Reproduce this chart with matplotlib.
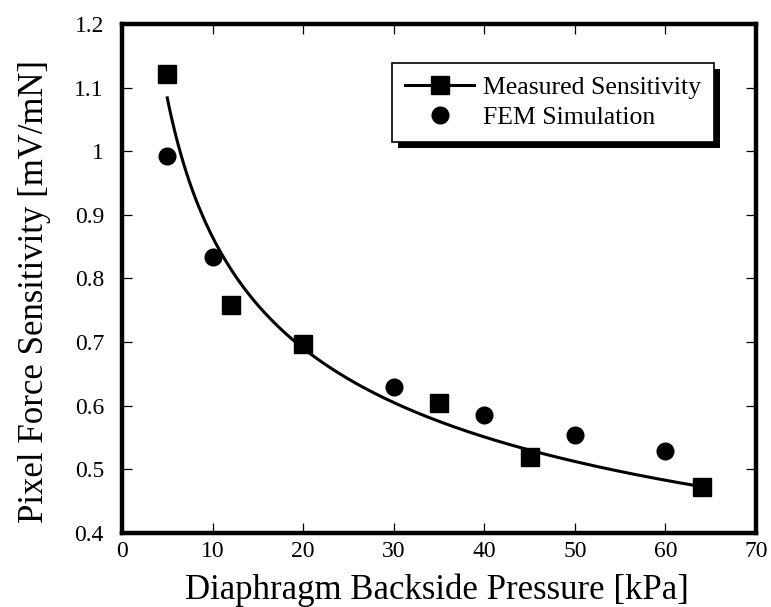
import numpy as np
import matplotlib
matplotlib.use("Agg")
import matplotlib.pyplot as plt
from matplotlib.lines import Line2D
from matplotlib.patches import Rectangle
from matplotlib.transforms import IdentityTransform
from matplotlib.ticker import FormatStrFormatter

plt.rcParams['font.family'] = ['Liberation Serif', 'DejaVu Serif']

# measured pixel sensitivity (squares)
meas_x = [5, 12, 20, 35, 45, 64]
meas_y = [1.122, 0.758, 0.697, 0.605, 0.519, 0.473]

# FEM simulation (circles)
fem_x = [5, 10, 30, 40, 50, 60]
fem_y = [0.992, 0.834, 0.630, 0.585, 0.554, 0.529]

x_ticks = [0, 10, 20, 30, 40, 50, 60, 70]
y_ticks = [0.4, 0.5, 0.6, 0.7, 0.8, 0.9, 1.0, 1.1, 1.2]

# power-law trend line fitted to the measured points
b, lna = np.polyfit(np.log(meas_x), np.log(meas_y), 1)
fit_x = np.linspace(min(meas_x), max(meas_x), 200)
fit_y = np.exp(lna) * fit_x ** b

fig = plt.figure(figsize=(7.71, 6.07), dpi=100)
ax = fig.add_axes([0.1582, 0.1219, 0.8223, 0.8386])

ax.plot(fit_x, fit_y, color='black', lw=2.2, zorder=3)
ax.plot(meas_x, meas_y, ls='none', marker='s', ms=12.5, color='black', zorder=4)
ax.plot(fem_x, fem_y, ls='none', marker='o', ms=12, color='black', zorder=4)

ax.set_xlim(0, 70)
ax.set_ylim(0.4, 1.2)
ax.set_xticks(x_ticks)
ax.set_yticks(y_ticks)
ax.yaxis.set_major_formatter(FormatStrFormatter('%g'))

for s in ax.spines.values():
    s.set_linewidth(3.2)
ax.tick_params(direction='in', length=7, width=0.9, top=True, right=True,
               labelsize=17)
ax.tick_params(axis='x', pad=6)
ax.tick_params(axis='y', pad=13)

ax.set_xlabel('Diaphragm Backside Pressure [kPa]', fontsize=25)
ax.set_ylabel('Pixel Force Sensitivity [mV/mN]', fontsize=25)
ax.xaxis.set_label_coords(0.497, -0.0786)
ax.yaxis.set_label_coords(-0.112, 0.475)

handles = [
    Line2D([], [], color='black', lw=2.2, marker='s', ms=12.5),
    Line2D([], [], color='black', ls='none', marker='o', ms=12),
]
leg = ax.legend(handles, ['Measured Sensitivity', 'FEM Simulation'],
                loc='upper left', bbox_to_anchor=(0.426, 0.923),
                borderaxespad=0, fontsize=18.5, handlelength=2.7,
                handletextpad=0.35, labelspacing=0.27, borderpad=0.5,
                fancybox=False, framealpha=1, edgecolor='black')
leg.get_frame().set_linewidth(1.2)

# solid black drop shadow behind the legend box
fig.canvas.draw()
bb = leg.get_window_extent()
shadow = Rectangle((bb.x0 + 6, bb.y0 - 6), bb.width, bb.height,
                   transform=IdentityTransform(), facecolor='black',
                   edgecolor='none', zorder=4.9)
ax.add_artist(shadow)

fig.savefig('out.png', dpi=100)
